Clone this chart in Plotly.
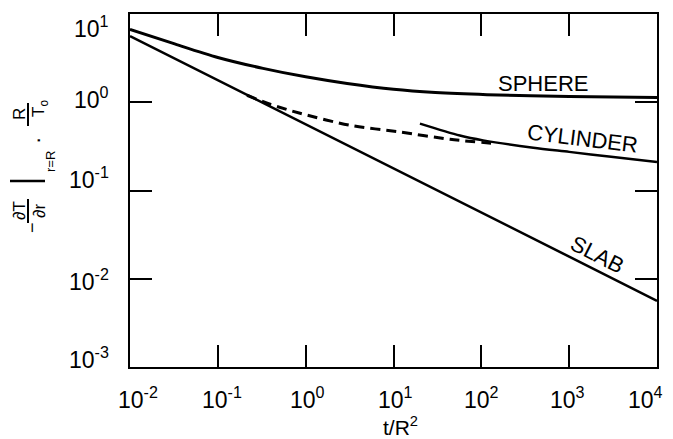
import math
import plotly.graph_objects as go

# ---- data ----
slab_t = [0.01, 0.1, 1, 10, 100, 1000, 10000]
slab_y = [5.6, 1.78, 0.56, 0.178, 0.056, 0.0178, 0.0056]

sphere_t = [0.01, 0.031, 0.1, 0.327, 1, 2.97, 10, 30, 116, 1000, 10000]
sphere_y = [6.7, 4.64, 3.22, 2.42, 1.94, 1.63, 1.40, 1.29, 1.22, 1.16, 1.13]

cyl_dash_t = [0.215, 0.394, 0.863, 3.2, 11.9, 44, 151]
cyl_dash_y = [1.2, 0.95, 0.75, 0.548, 0.46, 0.38, 0.339]

cyl_t = [20, 57, 105, 390, 1000, 3000, 10000]
cyl_y = [0.573, 0.42, 0.37, 0.305, 0.274, 0.241, 0.21]

x_ticks = [0.01, 0.1, 1, 10, 100, 1000, 10000]
x_tick_text = ["10<sup>-2</sup>", "10<sup>-1</sup>", "10<sup>0</sup>", "10<sup>1</sup>",
               "10<sup>2</sup>", "10<sup>3</sup>", "10<sup>4</sup>"]
y_ticks = [0.001, 0.01, 0.1, 1, 10]
y_tick_text = ["10<sup>-3</sup>", "10<sup>-2</sup>", "10<sup>-1</sup>", "10<sup>0</sup>", "10<sup>1</sup>"]

W, H = 673, 439
OFF = 8  # page offset of the figure inside the window
# desired plot area in window pixels: x 130..657, y 14..367
L, R, T, B = 130 - OFF, W - (657 - OFF), 14 - OFF, H - (367 - OFF)
FONT = "Liberation Sans"


def px(x, y):
    x -= OFF
    y -= OFF
    return (x - L) / (W - L - R), (H - B - y) / (H - T - B)


fig = go.Figure()
fig.add_trace(go.Scatter(x=sphere_t, y=sphere_y, mode="lines",
                         line=dict(color="black", width=3, shape="spline", smoothing=0.8)))
fig.add_trace(go.Scatter(x=slab_t, y=slab_y, mode="lines", line=dict(color="black", width=2.5)))
fig.add_trace(go.Scatter(x=cyl_dash_t, y=cyl_dash_y, mode="lines",
                         line=dict(color="black", width=3, dash="10px,6px", shape="spline", smoothing=0.8)))
fig.add_trace(go.Scatter(x=cyl_t, y=cyl_y, mode="lines",
                         line=dict(color="black", width=2.5, shape="spline", smoothing=0.8)))

axis_common = dict(showgrid=False, zeroline=False, showline=True, linecolor="black", linewidth=2,
                   mirror="ticks", ticks="inside", ticklen=22, tickwidth=1.5, tickcolor="black",
                   automargin=False, showticklabels=False)

fig.update_xaxes(type="log", range=[-2, 4], tickvals=x_ticks, **axis_common)
fig.update_yaxes(type="log", range=[-3, 1], tickvals=y_ticks, **axis_common)

ann = []


def add_text(x, y, text, size=20, angle=0, xanchor="center"):
    xp, yp = px(x, y)
    ann.append(dict(x=xp, y=yp, xref="paper", yref="paper", text=text, showarrow=False,
                    textangle=angle, xanchor=xanchor, yanchor="middle",
                    font=dict(family=FONT, size=size, color="black")))


# x tick labels as text placed at the tick positions
x_shift = [8, 4, 2, 2, 0, -2, -12]
for v, txt, s in zip(x_ticks, x_tick_text, x_shift):
    ann.append(dict(x=math.log10(v), y=0, xref="x", yref="paper", text=txt, showarrow=False,
                    xanchor="center", yanchor="middle", xshift=s, yshift=-31,
                    font=dict(family=FONT, size=23, color="black")))

# y tick labels (hand-lettered positions in the reference, in window pixels)
y_label_pos = [358, 280, 178, 98, 27]
for txt, yy in zip(y_tick_text, y_label_pos):
    add_text(111, yy, txt, 23, 0, "right")

add_text(543, 84, "SPHERE", 22)
add_text(582, 138, "CYLINDER", 22, 7)
add_text(597, 255, "SLAB", 22, 27)
add_text(400, 426, "t/R<sup>2</sup>", 21)

# y-axis label pieces (rotated)
add_text(32, 228, "−", 18, -90)
add_text(19, 211, "∂T", 17, -90)
add_text(39, 211, "∂r", 17, -90)
add_text(50, 162, "r=R", 13, -90)
add_text(37, 141, "·", 22, -90)
add_text(19, 114, "R", 17, -90)
add_text(40, 109, "T<sub>o</sub>", 17, -90)

shapes = []


def add_line(x0, y0, x1, y1, w=1.5):
    a, b = px(x0, y0)
    c, d = px(x1, y1)
    shapes.append(dict(type="line", xref="paper", yref="paper", x0=a, y0=b, x1=c, y1=d,
                       line=dict(color="black", width=w)))


add_line(28, 199, 28, 223, 2)
add_line(10, 181, 45, 181, 2.5)
add_line(28, 103, 28, 126, 2)

fig.update_layout(width=W, height=H, margin=dict(l=L, r=R, t=T, b=B, autoexpand=False),
                  paper_bgcolor="white", plot_bgcolor="white", showlegend=False,
                  annotations=ann, shapes=shapes)

fig.write_html("out.html")
